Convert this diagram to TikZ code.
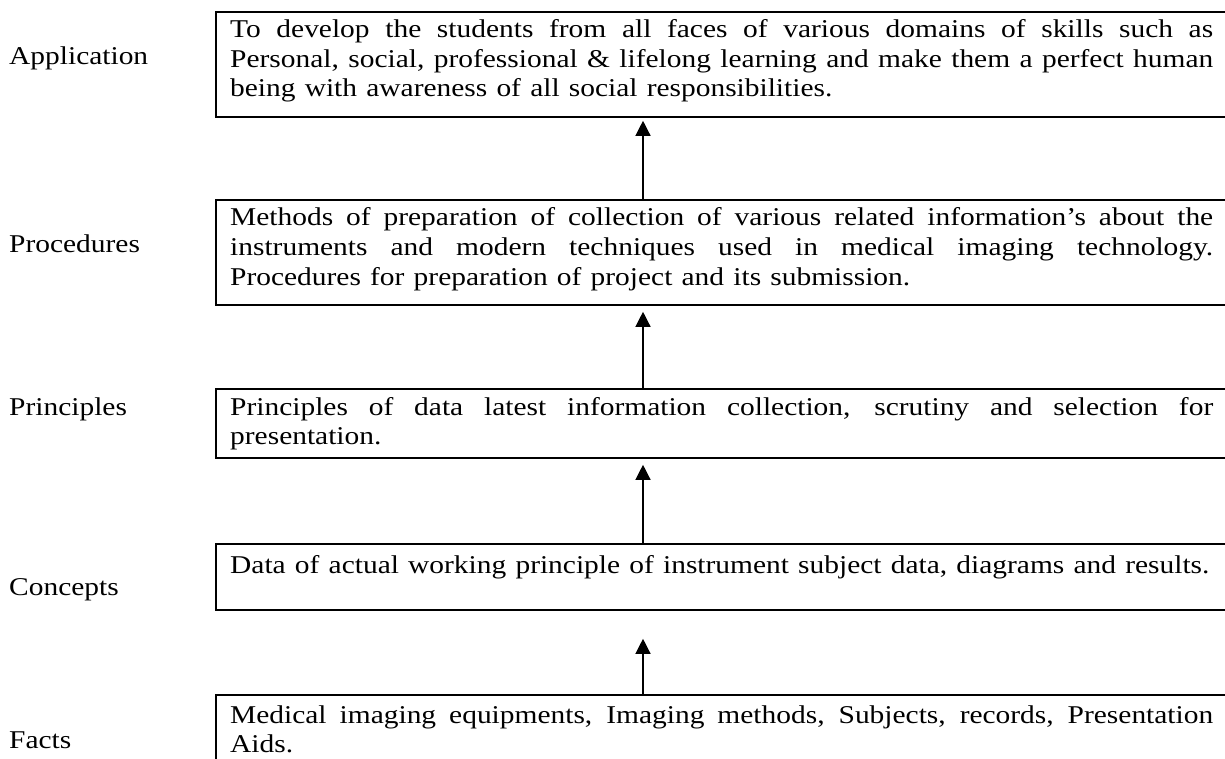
\documentclass[tikz,border=0pt]{standalone}
\usepackage{fontspec}
\setmainfont{Liberation Serif}[FakeStretch=1.15, WordSpace=1.25]
\usetikzlibrary{arrows.meta,calc}
\hyphenpenalty=10000
\begin{document}
\begin{tikzpicture}[x=1pt,y=-1pt,
  boxline/.style={draw, line width=1.8pt, rectangle, inner sep=0pt, anchor=north west, minimum width=1020pt},
  boxtext/.style={anchor=base west, inner sep=0pt, text width=983pt, align=justify,
    font=\fontsize{25.6}{29.5}\selectfont},
  lbl/.style={anchor=base west, inner sep=0pt, font=\fontsize{25.6}{29.5}\selectfont},
  arr/.style={-{Triangle[width=15pt,length=15pt]}, line width=1.3pt}]
\useasboundingbox (0,0) rectangle (1225,759);
% boxes
\node[boxline, minimum height=105pt] (b1) at (215,11) {};
\node[boxline, minimum height=105pt] (b2) at (215,199) {};
\node[boxline, minimum height=69pt] (b3) at (215,388) {};
\node[boxline, minimum height=66pt] (b4) at (215,543) {};
\node[boxline, minimum height=100pt] (b5) at (215,694) {};
% texts
\node[boxtext] (t1) at (230,38) {To develop the students from all faces of various domains of skills such as\linebreak Personal, social, professional \& lifelong learning and make them a perfect human\linebreak being with awareness of all social responsibilities.};
\node[boxtext] (t2) at (230,226) {Methods of preparation of collection of various related information’s about the\linebreak instruments and modern techniques used in medical imaging technology.\linebreak Procedures for preparation of project and its submission.};
\node[boxtext] (t3) at (230,415) {Principles of data latest information collection, scrutiny and selection for\linebreak presentation.};
\node[boxtext] (t4) at (230,573) {Data of actual working principle of instrument subject data, diagrams and results.};
\node[boxtext] (t5) at (230,723) {Medical imaging equipments, Imaging methods, Subjects, records, Presentation\linebreak Aids.};
% labels
\node[lbl] (l1) at (9,65) {Application};
\node[lbl] (l2) at (9,253) {Procedures};
\node[lbl] (l3) at (9,415) {Principles};
\node[lbl] (l4) at (9,595) {Concepts};
\node[lbl] (l5) at (9,748) {Facts};
% arrows
\draw[arr] ($(b2.north west)+(428,0)$) -- ($(b1.south west)+(428,3)$);
\draw[arr] ($(b3.north west)+(428,0)$) -- ($(b2.south west)+(428,6)$);
\draw[arr] ($(b4.north west)+(428,0)$) -- ($(b3.south west)+(428,6)$);
\draw[arr] ($(b5.north west)+(428,0)$) -- ($(b4.south west)+(428,28)$);
\end{tikzpicture}
\end{document}
